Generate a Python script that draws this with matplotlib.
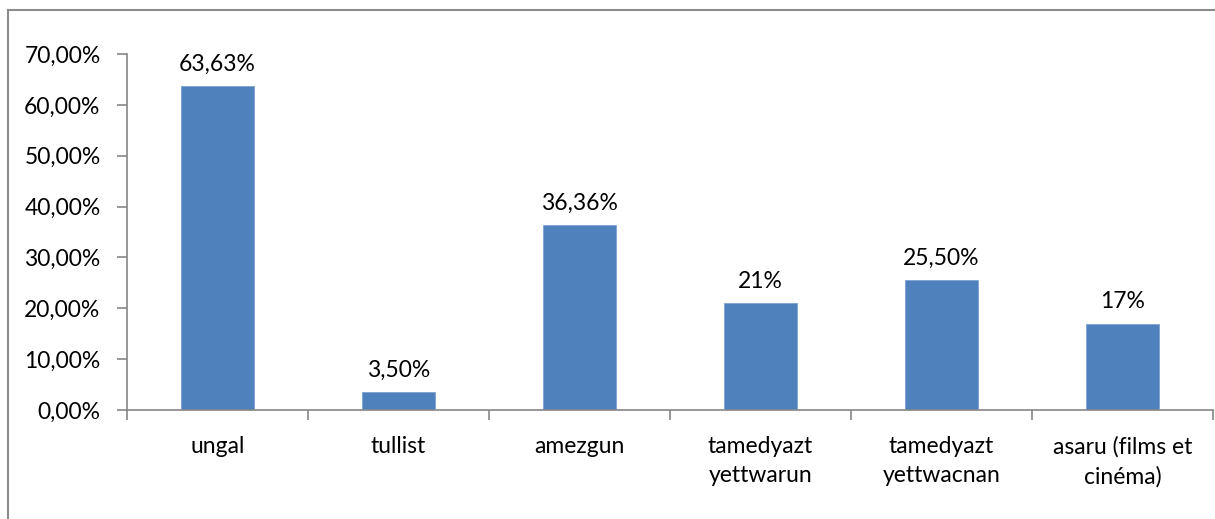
import matplotlib.pyplot as plt
from matplotlib.lines import Line2D

categories = ['ungal', 'tullist', 'amezgun', 'tamedyazt\nyettwarun',
              'tamedyazt\nyettwacnan', 'asaru (films et\ncinéma)']
values = [63.63, 3.50, 36.36, 21, 25.50, 17]
value_labels = ['63,63%', '3,50%', '36,36%', '21%', '25,50%', '17%']
yticks = [0, 10, 20, 30, 40, 50, 60, 70]

plt.rcParams['font.family'] = ['Lato', 'DejaVu Sans']
axis_col = '#868686'
fs = 16.5

fig = plt.figure(figsize=(12.15, 5.19), dpi=100)
ax = fig.add_axes([127 / 1215, 1 - 410 / 519, 1086 / 1215, (410 - 54) / 519])

x = list(range(len(categories)))
ax.bar(x, values, width=0.4, color='#4F81BD', edgecolor='#7EA2D0', linewidth=0.6, zorder=2)
for xi, v, lab in zip(x, values, value_labels):
    ax.annotate(lab, xy=(xi, v), xytext=(0, 8), textcoords='offset points',
                ha='center', va='bottom', fontsize=fs)

ax.set_xlim(-0.5, len(categories) - 0.5)
ax.set_ylim(0, 70)
ax.set_yticks(yticks)
ax.set_yticklabels(['%d,00%%' % t for t in yticks], fontsize=fs)
ax.set_xticks(x)
ax.set_xticklabels(categories, fontsize=fs, linespacing=1.45)
ax.set_xticks([i - 0.5 for i in range(len(categories) + 1)], minor=True)
ax.tick_params(axis='x', which='major', length=0, pad=19)
ax.tick_params(axis='x', which='minor', length=7, color=axis_col, width=1.2)
ax.tick_params(axis='y', length=7, color=axis_col, width=1.2, pad=12)

for s in ['top', 'right']:
    ax.spines[s].set_visible(False)
for s in ['left', 'bottom']:
    ax.spines[s].set_color(axis_col)
    ax.spines[s].set_linewidth(1.2)

# outer chart frame (left and top edges visible)
fig.add_artist(Line2D([8 / 1215, 8 / 1215], [0, 1 - 10 / 519], color='#8c8c8c', lw=1.5,
                      transform=fig.transFigure))
fig.add_artist(Line2D([8 / 1215, 1], [1 - 10 / 519, 1 - 10 / 519], color='#8c8c8c', lw=1.5,
                      transform=fig.transFigure))

fig.savefig('out.png', dpi=100)
